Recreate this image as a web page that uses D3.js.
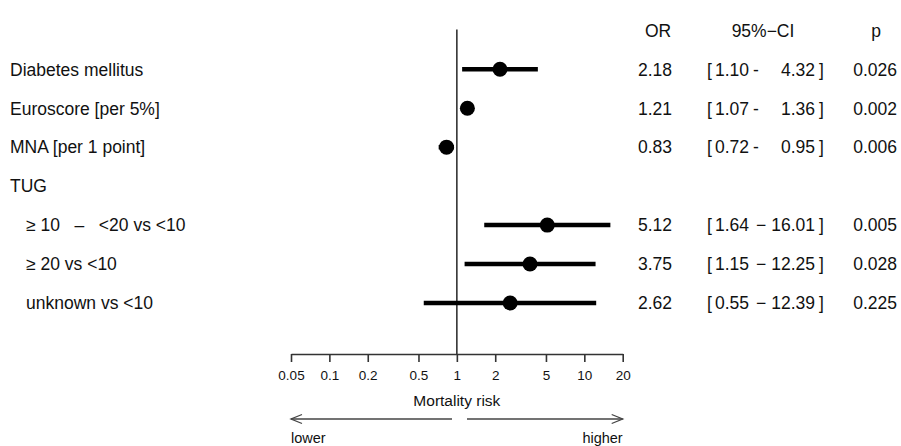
<!DOCTYPE html>
<html>
<head>
<meta charset="utf-8">
<script src="https://cdn.jsdelivr.net/npm/d3@7"></script>
<style>
  body { margin: 0; background: #fff; }
  text { font-family: "Liberation Sans", Arial, sans-serif; fill: #111; }
</style>
</head>
<body>
<script>
// forest plot data
var labels = ["Diabetes mellitus", "Euroscore [per 5%]", "MNA [per 1 point]", "TUG",
              "\u2265 10   \u2013   <20 vs <10", "\u2265 20 vs <10", "unknown vs <10"];
var indent = [0, 0, 0, 0, 1, 1, 1];
var or = [2.18, 1.21, 0.83, null, 5.12, 3.75, 2.62];
var lo = [1.10, 1.07, 0.72, null, 1.64, 1.15, 0.55];
var hi = [4.32, 1.36, 0.95, null, 16.01, 12.25, 12.39];
var orText = ["2.18", "1.21", "0.83", null, "5.12", "3.75", "2.62"];
var loText = ["1.10", "1.07", "0.72", null, "1.64", "1.15", "0.55"];
var hiText = ["4.32", "1.36", "0.95", null, "16.01", "12.25", "12.39"];
var dash = ["-", "-", "-", null, "\u2212", "\u2212", "\u2212"];
var pText = ["0.026", "0.002", "0.006", null, "0.005", "0.028", "0.225"];
var tickVals = [0.05, 0.1, 0.2, 0.5, 1, 2, 5, 10, 20];
var headers = ["OR", "95%\u2212CI", "p"];

var width = 901, height = 446;

var svg = d3.select("body").append("svg")
    .attr("width", width)
    .attr("height", height);

var x = d3.scaleLog()
    .domain([0.05, 20])
    .range([291, 622.7]);

// row -1 is the header line, rows 0..6 the entries
var y = d3.scaleLinear()
    .domain([-1, 6])
    .range([30.3, 303]);

var axisY = 354;

// reference line at OR = 1
svg.append("line")
    .attr("x1", x(1)).attr("x2", x(1))
    .attr("y1", 29.5).attr("y2", axisY)
    .attr("stroke", "#333")
    .attr("stroke-width", 1.6);

// row labels
svg.selectAll(".lab")
    .data(labels)
    .enter().append("text")
    .attr("class", "lab")
    .attr("x", function(d, i) { return indent[i] ? 26 : 10; })
    .attr("y", function(d, i) { return y(i); })
    .attr("dy", "0.36em")
    .attr("xml:space", "preserve")
    .style("white-space", "pre")
    .style("font-size", "17.5px")
    .text(function(d) { return d; });

var rows = d3.range(labels.length).filter(function(i) { return or[i] != null; });

// confidence intervals
svg.selectAll(".ci")
    .data(rows)
    .enter().append("line")
    .attr("x1", function(i) { return x(lo[i]); })
    .attr("x2", function(i) { return x(hi[i]); })
    .attr("y1", function(i) { return y(i); })
    .attr("y2", function(i) { return y(i); })
    .attr("stroke", "#000")
    .attr("stroke-width", 4.5);

// point estimates
svg.selectAll(".pt")
    .data(rows)
    .enter().append("circle")
    .attr("cx", function(i) { return x(or[i]); })
    .attr("cy", function(i) { return y(i); })
    .attr("r", 7.5)
    .attr("fill", "#000");

// headers
var headX = [658, 763, 876];
svg.selectAll(".head")
    .data(headers)
    .enter().append("text")
    .attr("x", function(d, i) { return headX[i]; })
    .attr("y", y(-1))
    .attr("dy", "0.36em")
    .attr("text-anchor", "middle")
    .style("font-size", "17.5px")
    .text(function(d) { return d; });

// right-hand columns
function col(fn, xpos, anchor) {
    svg.append("g").selectAll("text")
        .data(rows)
        .enter().append("text")
        .attr("x", xpos)
        .attr("y", function(i) { return y(i); })
        .attr("dy", "0.36em")
        .attr("text-anchor", anchor)
        .style("font-size", "17.5px")
        .text(fn);
}
col(function(i) { return orText[i]; }, 638, "start");
col(function() { return "["; }, 707, "start");
col(function(i) { return loText[i]; }, 715, "start");
col(function(i) { return dash[i]; }, function(i) { return dash[i] === "-" ? 756 : 761; }, "middle");
col(function(i) { return hiText[i]; }, 815, "end");
col(function() { return "]"; }, 819, "start");
col(function(i) { return pText[i]; }, 897, "end");

// log axis
var axis = svg.append("g")
    .attr("transform", "translate(0," + axisY + ")")
    .call(d3.axisBottom(x)
        .tickValues(tickVals)
        .tickSize(8)
        .tickSizeOuter(0)
        .tickPadding(8)
        .tickFormat(function(d) { return String(d); }));
axis.select(".domain").attr("stroke", "#333").attr("stroke-width", 1.6);
axis.selectAll(".tick line").attr("stroke", "#333").attr("stroke-width", 1.6);
axis.selectAll(".tick text")
    .attr("fill", "#111")
    .style("font-family", "'Liberation Sans', Arial, sans-serif")
    .style("font-size", "13.5px");

svg.append("text")
    .attr("x", x(1))
    .attr("y", 400)
    .attr("dy", "0.36em")
    .attr("text-anchor", "middle")
    .style("font-size", "15.5px")
    .text("Mortality risk");

// direction arrows
var arrowY = 419;
function arrow(x1, x2) {
    var dir = x2 > x1 ? 1 : -1;
    var g = svg.append("g")
        .attr("stroke", "#444")
        .attr("stroke-width", 1.3)
        .attr("fill", "none");
    g.append("line")
        .attr("x1", x1).attr("x2", x2)
        .attr("y1", arrowY).attr("y2", arrowY);
    g.append("path")
        .attr("d", "M" + (x2 - dir * 11) + "," + (arrowY - 4.5) + "L" + x2 + "," + arrowY +
                   "L" + (x2 - dir * 11) + "," + (arrowY + 4.5));
}
arrow(452, x(0.05));
arrow(467, x(20));

svg.append("text")
    .attr("x", x(0.05))
    .attr("y", 438)
    .attr("dy", "0.36em")
    .style("font-size", "14.5px")
    .text("lower");

svg.append("text")
    .attr("x", x(20))
    .attr("y", 438)
    .attr("dy", "0.36em")
    .attr("text-anchor", "end")
    .style("font-size", "14.5px")
    .text("higher");
</script>
</body>
</html>
